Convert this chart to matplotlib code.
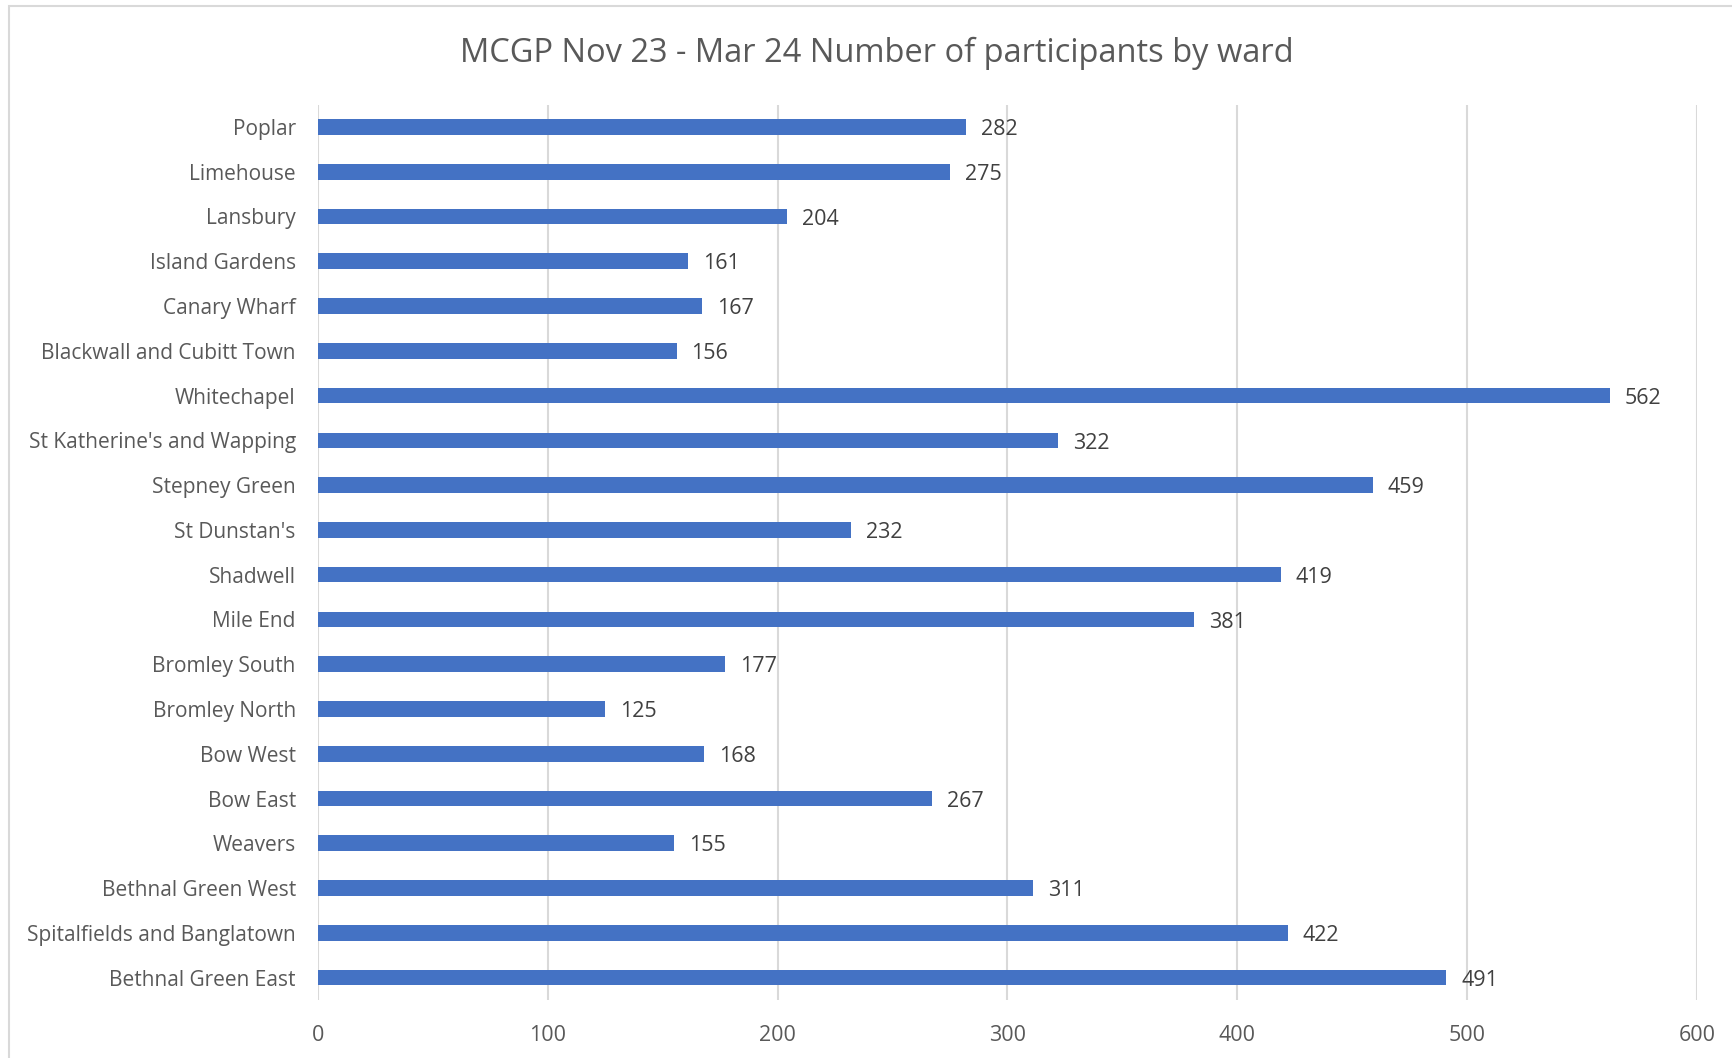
import matplotlib.pyplot as plt
from matplotlib.patches import Rectangle

wards = ['Poplar', 'Limehouse', 'Lansbury', 'Island Gardens', 'Canary Wharf',
         'Blackwall and Cubitt Town', 'Whitechapel', "St Katherine's and Wapping",
         'Stepney Green', "St Dunstan's", 'Shadwell', 'Mile End', 'Bromley South',
         'Bromley North', 'Bow West', 'Bow East', 'Weavers', 'Bethnal Green West',
         'Spitalfields and Banglatown', 'Bethnal Green East']
participants = [282, 275, 204, 161, 167, 156, 562, 322, 459, 232, 419, 381, 177,
                125, 168, 267, 155, 311, 422, 491]
xticks = [0, 100, 200, 300, 400, 500, 600]

plt.rcParams['font.family'] = ['Open Sans', 'DejaVu Sans']

fig = plt.figure(figsize=(17.33, 10.58), dpi=100)
ax = fig.add_axes([0.1835, 0.0548, 0.7957, 0.8464])

# chart border like the excel export
fig.patches.append(Rectangle((9 / 1733, -0.01), 1.02, 1 - 6 / 1058 + 0.01,
                             transform=fig.transFigure, fill=False,
                             edgecolor='#d9d9d9', linewidth=1.5))

ypos = list(range(len(wards)))[::-1]
ax.barh(ypos, participants, height=0.35, color='#4472C4', zorder=3)
for y, v in zip(ypos, participants):
    ax.text(v + 6.5, y - 0.06, str(v), va='center', ha='left', fontsize=15.5, color='#404040')

ax.set_xlim(0, 600)
ax.set_ylim(-0.5, len(wards) - 0.5)
ax.set_xticks(xticks)
ax.set_yticks(ypos)
ax.set_yticklabels(wards)
ax.tick_params(axis='both', length=0, labelcolor='#595959')
ax.tick_params(axis='y', pad=16, labelsize=15)
ax.tick_params(axis='x', pad=18, labelsize=15.5)
ax.grid(axis='x', color='#d9d9d9', linewidth=1.5, zorder=0)
for s in ax.spines.values():
    s.set_visible(False)

fig.text(0.506, 0.95, 'MCGP Nov 23 - Mar 24 Number of participants by ward',
         ha='center', va='center', fontsize=23.5, color='#595959')

fig.savefig('out.png', dpi=100)
